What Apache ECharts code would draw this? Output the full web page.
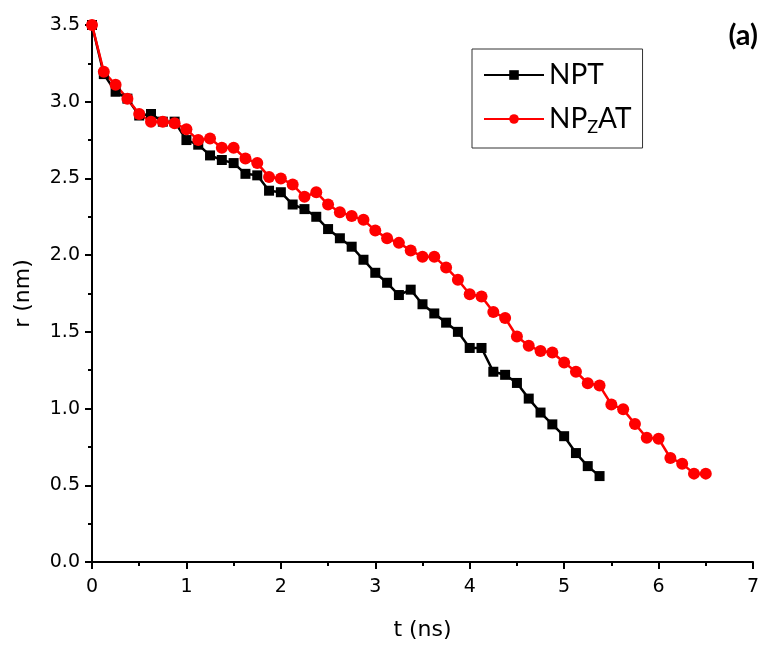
<!DOCTYPE html>
<html>
<head>
<meta charset="utf-8">
<script src="https://cdn.jsdelivr.net/npm/echarts@6/dist/echarts.min.js"></script>
<style>
html,body{margin:0;padding:0;background:#fff;}
#chart{width:772px;height:646px;}
</style>
</head>
<body>
<div id="chart"></div>
<script>
// time step of the simulation samples (ns)
var timeStep = 0.125;

var nptValues = [3.5, 3.18, 3.065, 3.02, 2.91, 2.92, 2.87, 2.87, 2.75, 2.72,
  2.65, 2.62, 2.60, 2.53, 2.52, 2.42, 2.41, 2.33, 2.30, 2.25,
  2.17, 2.11, 2.055, 1.97, 1.885, 1.82, 1.74, 1.775, 1.68, 1.62,
  1.56, 1.50, 1.395, 1.395, 1.24, 1.22, 1.167, 1.065, 0.974, 0.897,
  0.82, 0.71, 0.625, 0.56];

var npzatValues = [3.5, 3.195, 3.11, 3.02, 2.92, 2.87, 2.87, 2.86, 2.82, 2.75,
  2.76, 2.70, 2.70, 2.63, 2.60, 2.51, 2.50, 2.46, 2.38, 2.41,
  2.33, 2.28, 2.255, 2.23, 2.16, 2.11, 2.08, 2.03, 1.99, 1.99,
  1.92, 1.84, 1.745, 1.73, 1.63, 1.59, 1.47, 1.41, 1.375, 1.365,
  1.30, 1.24, 1.165, 1.15, 1.027, 0.995, 0.90, 0.81, 0.804, 0.678,
  0.641, 0.576, 0.576];

var seriesNames = ['NPT', 'NPZAT'];

function toPairs(vals) {
  var out = [];
  for (var i = 0; i < vals.length; i++) out.push([i * timeStep, vals[i]]);
  return out;
}

var chart = echarts.init(document.getElementById('chart'), null, {renderer: 'canvas'});

var axisCommon = {
  axisLine: {show: true, onZero: false, lineStyle: {color: '#000', width: 2}},
  axisTick: {show: true, inside: false, length: 7, lineStyle: {color: '#000', width: 2}},
  minorTick: {show: true, splitNumber: 2, length: 4, lineStyle: {color: '#000', width: 2}},
  splitLine: {show: false},
  minorSplitLine: {show: false},
  axisLabel: {color: '#000', fontFamily: 'DejaVu Sans', fontSize: 19},
  nameTextStyle: {color: '#000', fontFamily: 'DejaVu Sans', fontSize: 22}
};

var option = {
  backgroundColor: '#fff',
  animation: false,
  grid: {left: 92, right: 19, top: 25, bottom: 84, containLabel: false},
  title: {
    text: '(a)', right: 9, top: 16,
    textStyle: {fontFamily: 'Lato', fontWeight: 'bold', fontSize: 29, color: '#000'}
  },
  legend: {
    orient: 'vertical',
    left: 472, top: 49,
    padding: [12, 11, 12, 11],
    itemGap: 16,
    itemWidth: 60, itemHeight: 12,
    itemTextGap: 10,
    borderColor: '#333', borderWidth: 1,
    data: seriesNames,
    formatter: function (name) {
      return name === 'NPZAT' ? 'NP{sub|Z}AT' : name;
    },
    textStyle: {
      fontFamily: 'Lato', fontSize: 28, color: '#000',
      rich: {sub: {fontFamily: 'Lato', fontSize: 18, color: '#000', padding: [16, 0, 0, 0]}}
    }
  },
  xAxis: Object.assign({}, axisCommon, {
    type: 'value', min: 0, max: 7, interval: 1,
    name: 't (ns)', nameLocation: 'middle', nameGap: 57,
    axisLabel: Object.assign({}, axisCommon.axisLabel, {margin: 16})
  }),
  yAxis: Object.assign({}, axisCommon, {
    type: 'value', min: 0, max: 3.5, interval: 0.5,
    name: 'r (nm)', nameLocation: 'middle', nameGap: 58,
    axisLabel: Object.assign({}, axisCommon.axisLabel, {margin: 12,
      formatter: function (v) { return v.toFixed(1); }})
  }),
  series: [
    {
      name: 'NPT', type: 'line', data: toPairs(nptValues),
      symbol: 'rect', symbolSize: 10, showAllSymbol: true,
      lineStyle: {color: '#000', width: 2.5},
      itemStyle: {color: '#000'}
    },
    {
      name: 'NPZAT', type: 'line', data: toPairs(npzatValues),
      symbol: 'circle', symbolSize: 12, showAllSymbol: true,
      lineStyle: {color: '#ff0000', width: 2.5},
      itemStyle: {color: '#ff0000'}
    }
  ]
};
chart.setOption(option);
</script>
</body>
</html>
